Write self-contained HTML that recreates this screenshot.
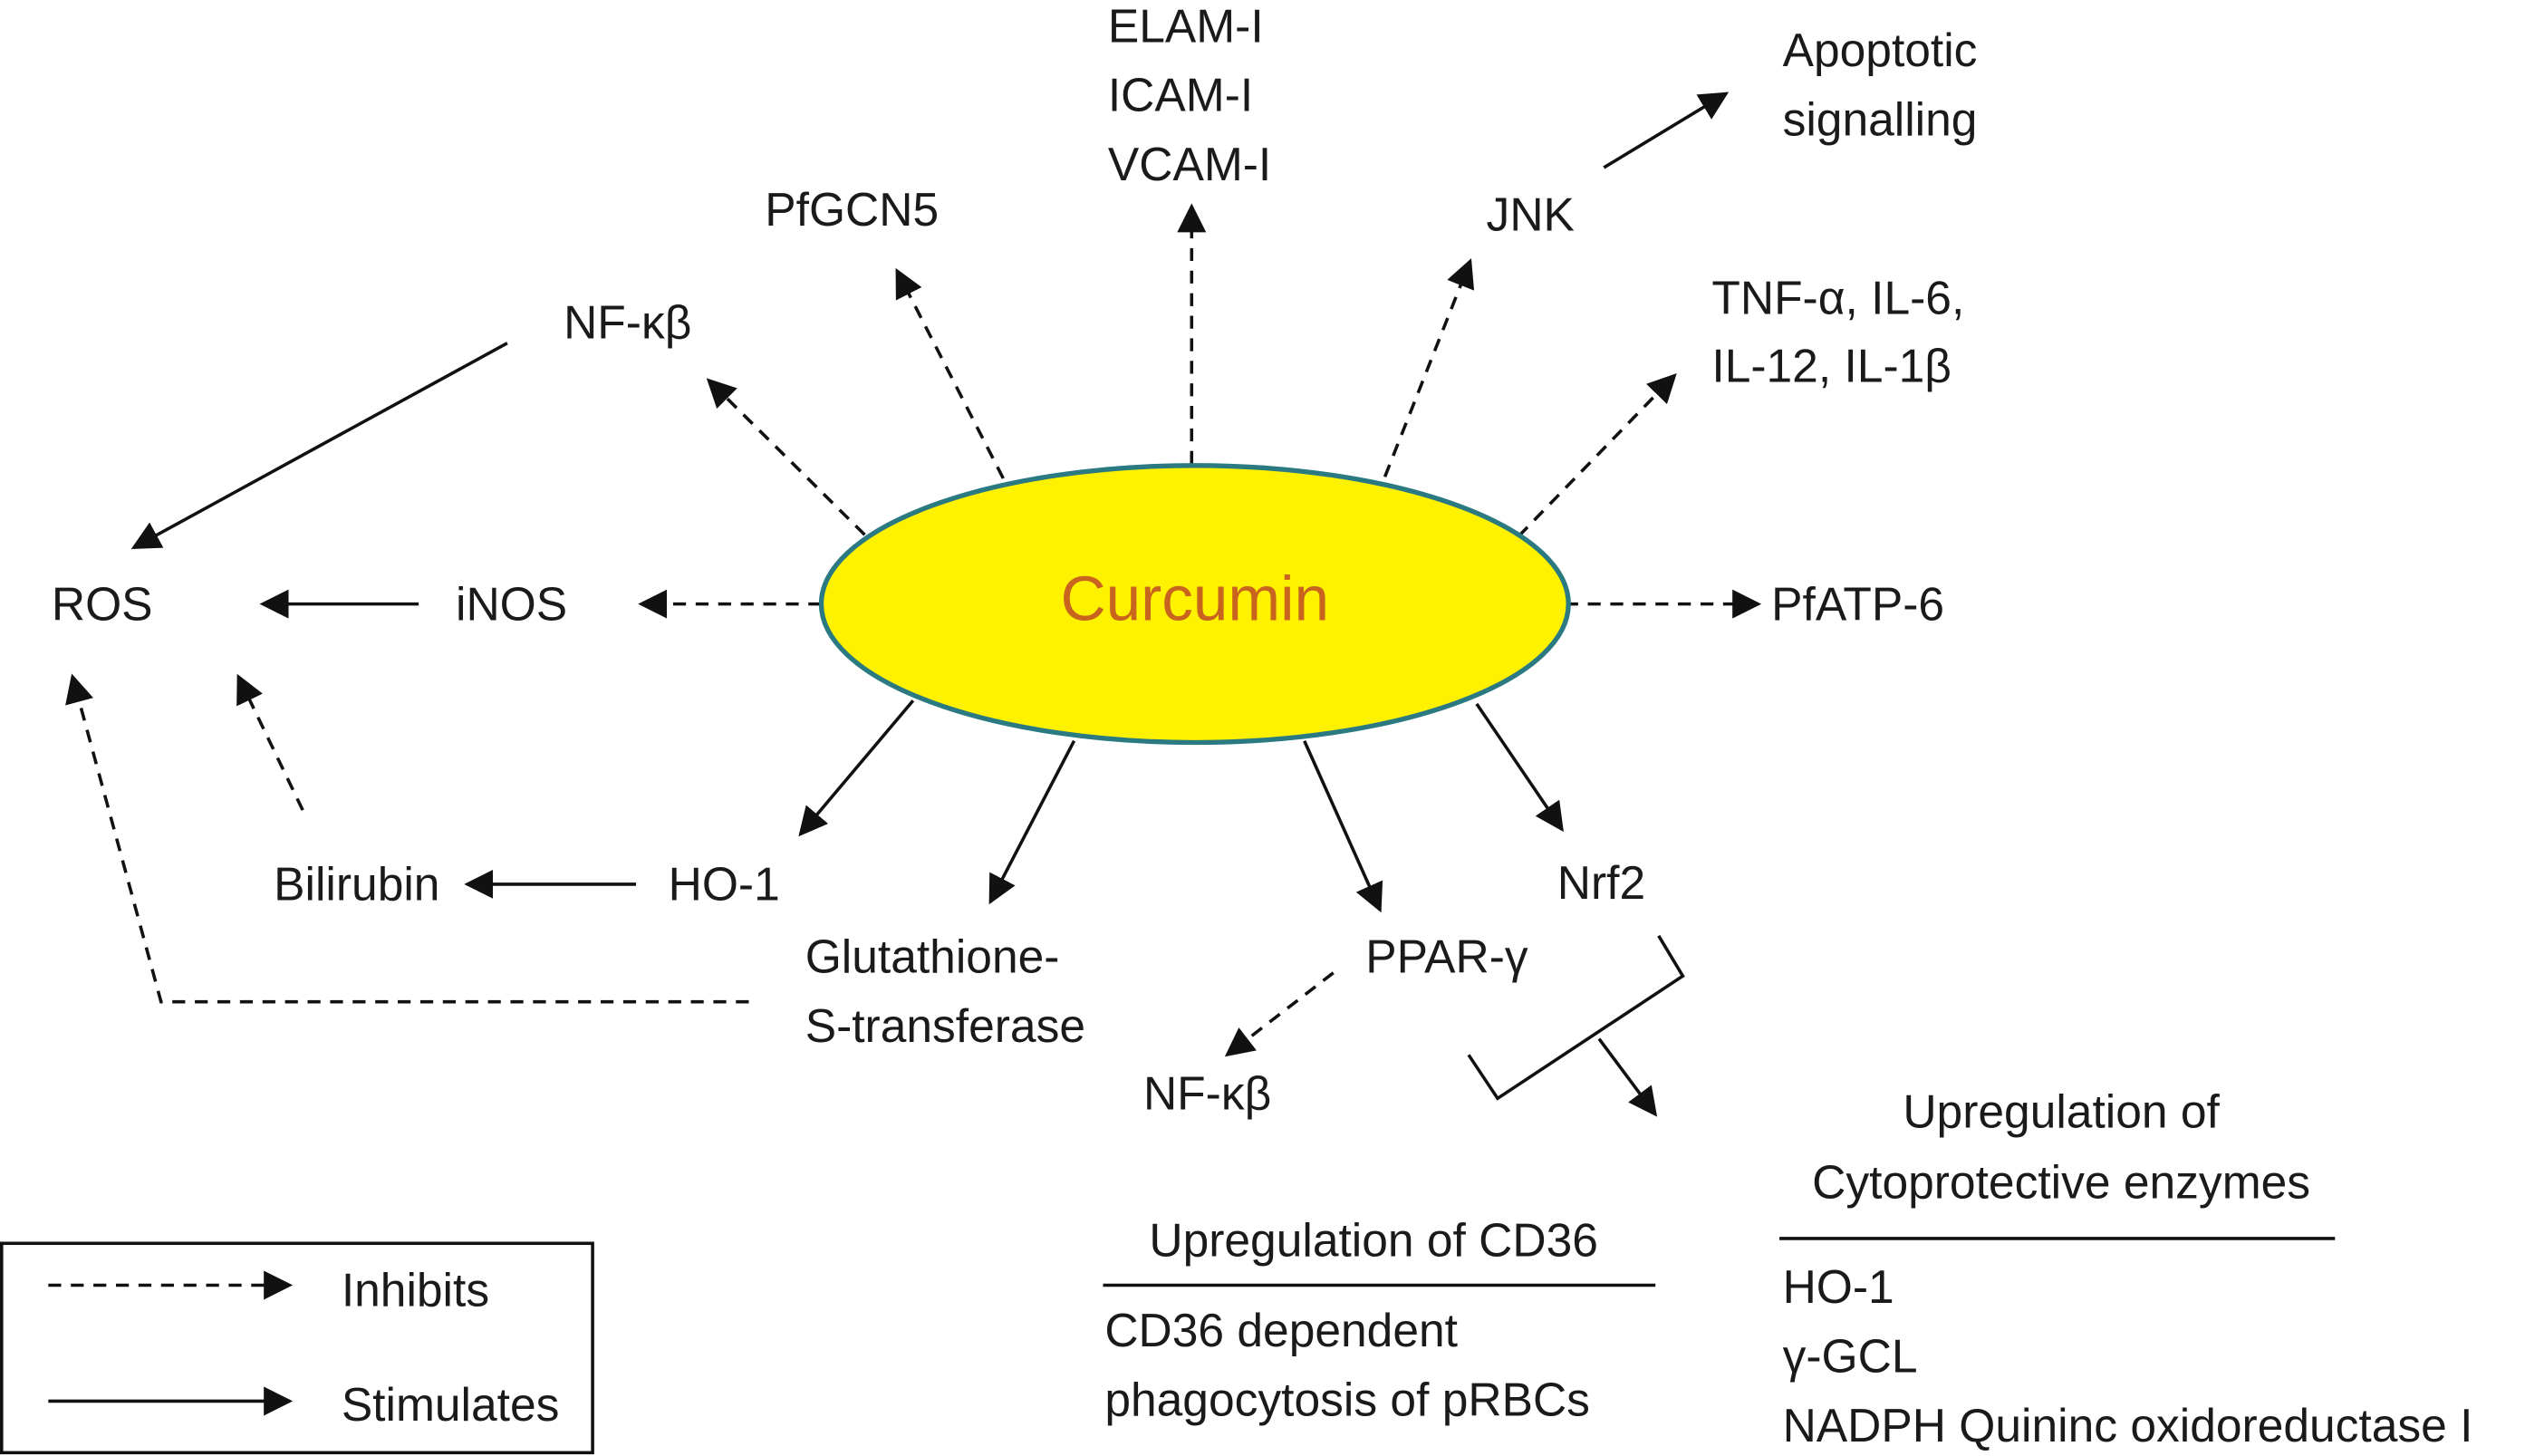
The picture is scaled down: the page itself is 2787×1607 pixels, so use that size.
<!DOCTYPE html>
<html><head><meta charset="utf-8"><style>
html,body{margin:0;padding:0;background:#fff;}
svg{display:block;}
text{font-family:"Liberation Sans",Arial,sans-serif;font-size:29px;fill:#1a1a1a;}
</style></head><body>
<svg width="2787" height="1607" viewBox="0 0 1568 904" xmlns="http://www.w3.org/2000/svg">
<defs>
<marker id="a" viewBox="0 0 10 10" refX="9" refY="5" markerWidth="18" markerHeight="18" markerUnits="userSpaceOnUse" orient="auto"><path d="M0,0 L10,5 L0,10 z" fill="#111"/></marker>
</defs>
<g stroke="#111" stroke-width="2" fill="none">
<g stroke-dasharray="8,6">
<line x1="510" y1="375" x2="398" y2="375" marker-end="url(#a)"/>
<line x1="537" y1="332" x2="440" y2="236" marker-end="url(#a)"/>
<line x1="623" y1="297" x2="557" y2="168" marker-end="url(#a)"/>
<line x1="740" y1="288" x2="740" y2="128" marker-end="url(#a)"/>
<line x1="860" y1="296" x2="913" y2="162" marker-end="url(#a)"/>
<line x1="943" y1="333" x2="1040" y2="233" marker-end="url(#a)"/>
<line x1="972" y1="375" x2="1092" y2="375" marker-end="url(#a)"/>
<line x1="188" y1="503" x2="148" y2="420" marker-end="url(#a)"/>
<polyline points="465,622 100,622 45,420" marker-end="url(#a)"/>
<line x1="828" y1="604" x2="762" y2="655" marker-end="url(#a)"/>
<line x1="30" y1="798" x2="180" y2="798" marker-end="url(#a)"/>
</g>
<line x1="260" y1="375" x2="163" y2="375" marker-end="url(#a)"/>
<line x1="996" y1="104" x2="1072" y2="58" marker-end="url(#a)"/>
<line x1="315" y1="213" x2="83" y2="340" marker-end="url(#a)"/>
<line x1="567" y1="435" x2="497" y2="518" marker-end="url(#a)"/>
<line x1="667" y1="460" x2="615" y2="560" marker-end="url(#a)"/>
<line x1="810" y1="460" x2="857" y2="565" marker-end="url(#a)"/>
<line x1="917" y1="437" x2="970" y2="515" marker-end="url(#a)"/>
<line x1="395" y1="549" x2="290" y2="549" marker-end="url(#a)"/>
<polyline points="1030,581 1045,606 930,682 912,655"/>
<line x1="993" y1="645" x2="1028" y2="692" marker-end="url(#a)"/>
<line x1="30" y1="870" x2="180" y2="870" marker-end="url(#a)"/>
<line x1="685" y1="798" x2="1028" y2="798"/>
<line x1="1105" y1="769" x2="1450" y2="769"/>
<rect x="1" y="772" width="367" height="130"/>
</g>
<ellipse cx="742" cy="375" rx="232" ry="86" fill="#fff200" stroke="#2b7a82" stroke-width="3"/>
<text x="742" y="385" text-anchor="middle" style="font-size:39px;fill:#c8641e">Curcumin</text>
<text x="32" y="385">ROS</text>
<text x="283" y="385">iNOS</text>
<text x="350" y="210">NF-κβ</text>
<text x="475" y="140">PfGCN5</text>
<text x="688" y="26">ELAM-I</text>
<text x="688" y="69">ICAM-I</text>
<text x="688" y="112">VCAM-I</text>
<text x="923" y="143">JNK</text>
<text x="1107" y="41">Apoptotic</text>
<text x="1107" y="84">signalling</text>
<text x="1063" y="195">TNF-α, IL-6,</text>
<text x="1063" y="237">IL-12, IL-1β</text>
<text x="1100" y="385">PfATP-6</text>
<text x="170" y="559">Bilirubin</text>
<text x="415" y="559">HO-1</text>
<text x="500" y="604">Glutathione-</text>
<text x="500" y="647">S-transferase</text>
<text x="848" y="604">PPAR-γ</text>
<text x="967" y="558">Nrf2</text>
<text x="710" y="689">NF-κβ</text>
<text x="1280" y="700" text-anchor="middle">Upregulation of</text>
<text x="1280" y="744" text-anchor="middle">Cytoprotective enzymes</text>
<text x="853" y="780" text-anchor="middle">Upregulation of CD36</text>
<text x="686" y="836">CD36 dependent</text>
<text x="686" y="879">phagocytosis of pRBCs</text>
<text x="1107" y="809">HO-1</text>
<text x="1107" y="852">γ-GCL</text>
<text x="1107" y="895">NADPH Quininc oxidoreductase I</text>
<text x="212" y="811">Inhibits</text>
<text x="212" y="882">Stimulates</text>
</svg>
</body></html>
